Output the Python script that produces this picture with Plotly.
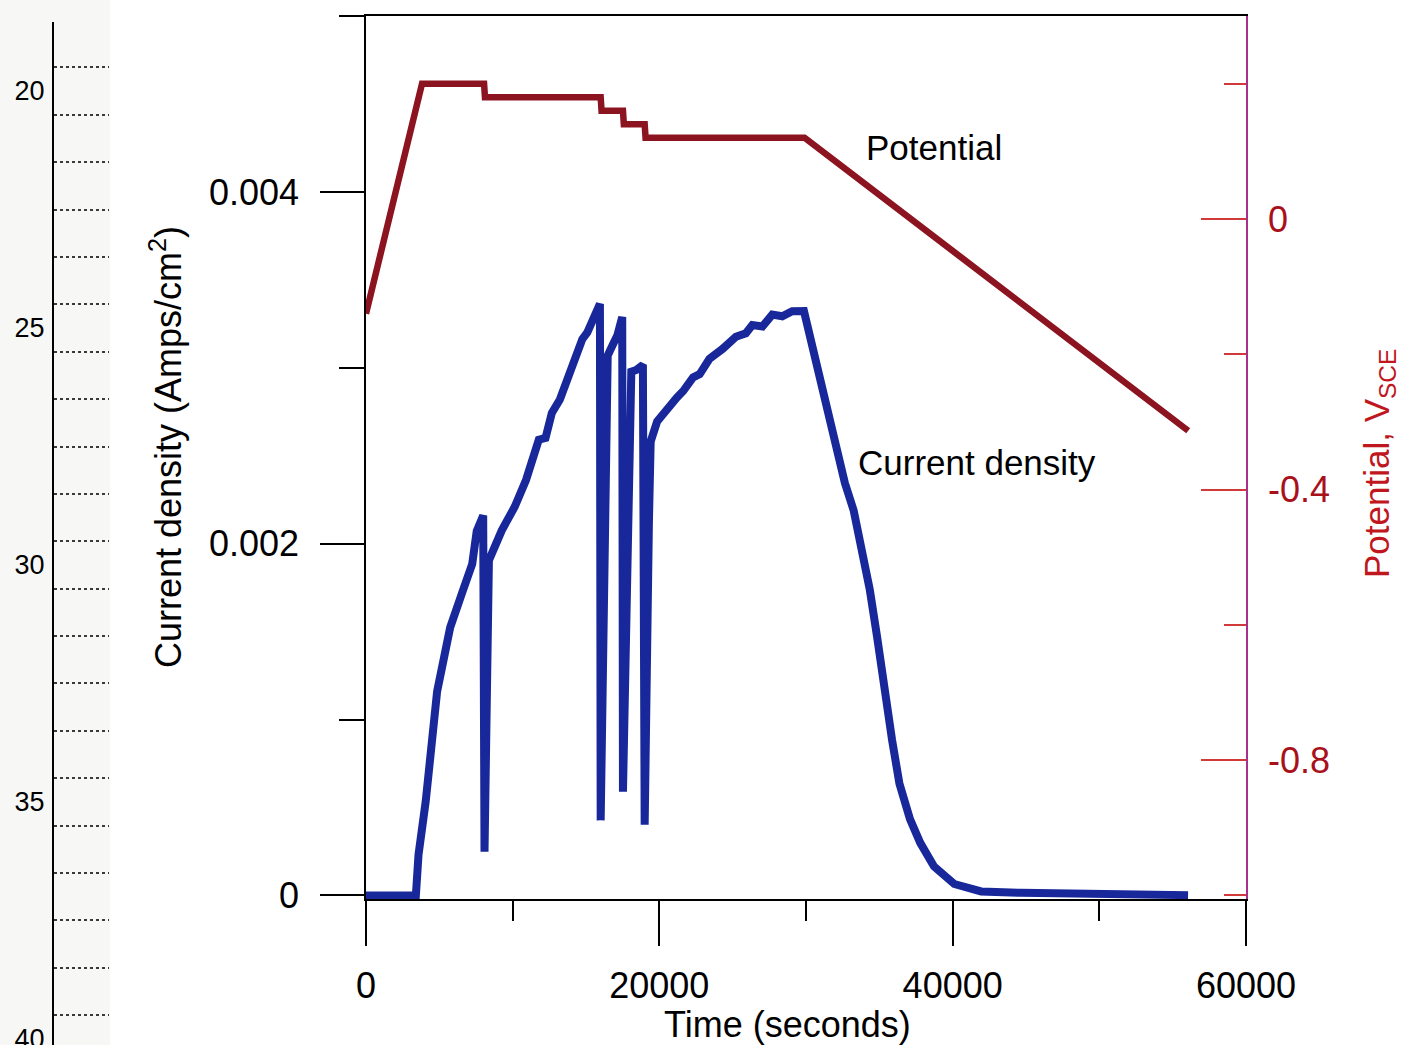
import plotly.graph_objects as go

# ---- data -------------------------------------------------------------
# current density trace (time in s, current density in A/cm^2)
cur_time = [0, 3400, 3580, 3870, 4070, 4850, 5740, 6590, 7240, 7550,
            7990, 8080, 8380, 9260, 10140, 10910, 11570, 11780, 12240, 12670,
            13220, 13660, 13870, 14320, 14750, 15090, 15530, 15950, 16000, 16480,
            16810, 17140, 17470, 17520, 18090, 18430, 18880, 19000, 19290, 19410,
            19850, 20520, 21190, 21630, 22300, 22750, 23420, 24320, 25220, 25900,
            26340, 27030, 27700, 28380, 29060, 29860, 30460, 31190, 31920, 32650,
            33250, 33860, 34350, 34850, 35370, 35870, 36370, 37090, 37790, 38730,
            40110, 41940, 44650, 51480, 56050]
cur_density = [0, 0, 0.000232, 0.000403, 0.000534, 0.00116, 0.001524, 0.00173, 0.001884, 0.002072,
               0.00216, 0.000249, 0.001905, 0.002076, 0.00221, 0.002362, 0.002534, 0.002591, 0.002601, 0.002743,
               0.00282, 0.002915, 0.002991, 0.003087, 0.003163, 0.003201, 0.003277, 0.003363, 0.000427, 0.00307,
               0.003128, 0.003185, 0.003289, 0.00059, 0.002978, 0.002988, 0.003017, 0.000402, 0.002127, 0.002581,
               0.002695, 0.002772, 0.00283, 0.002868, 0.002945, 0.002964, 0.003051, 0.003108, 0.003176, 0.003196,
               0.003243, 0.003235, 0.003302, 0.003293, 0.003322, 0.003323, 0.003109, 0.002886, 0.002615, 0.002345,
               0.002189, 0.001963, 0.001738, 0.001469, 0.001153, 0.000883, 0.000636, 0.000434, 0.000299, 0.000165,
               0.0000653, 0.000023, 0.000015, 0.000006, 0.000002]

# applied potential program (time in s, potential in V vs SCE)
pot_time = [0, 3820, 8050, 8110, 16000, 16060, 17520, 17580, 19000, 19060, 29900, 56060]
pot_volts = [-0.140, 0.200, 0.200, 0.180, 0.180, 0.160, 0.160, 0.140, 0.140, 0.120, 0.120, -0.313]

# axis ticks
time_ticks = [0, 20000, 40000, 60000]
time_tick_text = ["0", "20000", "40000", "60000"]
time_minor = [10000, 30000, 50000]
cd_ticks = [0, 0.002, 0.004]
cd_tick_text = ["0", "0.002", "0.004"]
pot_ticks = [0, -0.4, -0.8]
pot_tick_text = ["0", "-0.4", "-0.8"]
pot_minor = [0.2, -0.2, -0.6, -1.0]

# notebook page ruler along the left edge
ruler_labels = [20, 25, 30, 35, 40]
ruler_lines = [18.5 + i for i in range(22)]

# ---- styling ----------------------------------------------------------
W, H = 1418, 1045
FONT = "Liberation Sans, Arial, Helvetica, sans-serif"
BLUE = "#18289a"
MAROON = "#8c1421"
RED_TXT = "#a8101a"
RED_TITLE = "#c0161e"
RED_TICK = "#d23a3a"
AXIS_PURPLE = "#a8308c"

def px_x(p):
    return p / W

def px_y(p):
    return 1 - p / H

fig = go.Figure()

fig.add_trace(go.Scatter(
    x=cur_time, y=cur_density, mode="lines",
    line=dict(color=BLUE, width=8), xaxis="x", yaxis="y",
    showlegend=False, hoverinfo="skip"))

fig.add_trace(go.Scatter(
    x=pot_time, y=pot_volts, mode="lines",
    line=dict(color=MAROON, width=6.5), xaxis="x", yaxis="y2",
    showlegend=False, hoverinfo="skip"))

# empty trace so the ruler subplot is created
fig.add_trace(go.Scatter(x=[], y=[], xaxis="x3", yaxis="y3",
                         showlegend=False, hoverinfo="skip"))

plot_dom_x = [px_x(366), px_x(1246)]
plot_dom_y = [px_y(899), px_y(16)]

fig.update_layout(
    width=W, height=H,
    margin=dict(l=0, r=0, t=0, b=0, autoexpand=False),
    paper_bgcolor="white", plot_bgcolor="white",
    font=dict(family=FONT, color="black", size=36),
    xaxis=dict(
        domain=plot_dom_x, range=[0, 60000], anchor="y", automargin=False,
        showline=True, linecolor="black", linewidth=1.5, mirror=True,
        ticks="outside", ticklen=45, tickwidth=1.5, tickcolor="black",
        tickmode="array", tickvals=time_ticks, ticktext=time_tick_text,
        tickfont=dict(size=36), ticklabelstandoff=9,
        minor=dict(tickmode="array", tickvals=time_minor, ticks="outside",
                   ticklen=20, tickwidth=1.5, tickcolor="black"),
        showgrid=False, zeroline=False),
    yaxis=dict(
        domain=plot_dom_y, range=[-0.00002, 0.005], anchor="x", automargin=False,
        showline=True, linecolor="black", linewidth=1.5,
        ticks="outside", ticklen=44, tickwidth=1.5, tickcolor="black",
        tickmode="array", tickvals=cd_ticks, ticktext=cd_tick_text,
        tickfont=dict(size=36), ticklabelstandoff=14,
        minor=dict(dtick=0.001, tick0=0, ticks="outside", ticklen=25,
                   tickwidth=1.5, tickcolor="black"),
        showgrid=False, zeroline=False),
    yaxis2=dict(
        overlaying="y", side="right", anchor="x", automargin=False,
        range=[-1.0052, 0.3],
        showline=True, linecolor=AXIS_PURPLE, linewidth=1.5,
        ticks="inside", ticklen=45, tickwidth=1.5, tickcolor=RED_TICK,
        tickmode="array", tickvals=pot_ticks, ticktext=pot_tick_text,
        tickfont=dict(size=36, color=RED_TXT), ticklabelstandoff=13,
        minor=dict(tickmode="array", tickvals=pot_minor, ticks="inside",
                   ticklen=22, tickwidth=1.5, tickcolor=RED_TICK),
        showgrid=False, zeroline=False),
    xaxis3=dict(
        domain=[px_x(54), px_x(109)], range=[0, 1], anchor="y3",
        automargin=False, visible=False, showgrid=False, zeroline=False),
    yaxis3=dict(
        domain=[0, px_y(22)], range=[40.127, 18.544], anchor="x3",
        automargin=False, ticklabeloverflow="allow",
        showline=True, linecolor="black", linewidth=2,
        ticks="", tickmode="array", tickvals=ruler_labels,
        tickfont=dict(size=27), ticklabelstandoff=2,
        showgrid=False, zeroline=False,
        minor=dict(tickmode="array", tickvals=ruler_lines, ticks="",
                   showgrid=True, griddash="dot", gridcolor="#3a3a3a",
                   gridwidth=1.5)),
    shapes=[dict(type="rect", xref="paper", yref="paper",
                 x0=0, x1=px_x(110), y0=0, y1=1,
                 fillcolor="#f7f8f6", line=dict(width=0), layer="below")],
    annotations=[
        dict(text="Potential", x=px_x(934), y=px_y(147),
             xref="paper", yref="paper", showarrow=False,
             xanchor="center", yanchor="middle", font=dict(size=35)),
        dict(text="Current density", x=px_x(977), y=px_y(462),
             xref="paper", yref="paper", showarrow=False,
             xanchor="center", yanchor="middle", font=dict(size=35)),
        dict(text="Time (seconds)", x=px_x(787), y=px_y(1024),
             xref="paper", yref="paper", showarrow=False,
             xanchor="center", yanchor="middle", font=dict(size=36)),
        dict(text="Current density (Amps/cm<sup>2</sup>)",
             x=px_x(166), y=px_y(447), textangle=-90,
             xref="paper", yref="paper", showarrow=False,
             xanchor="center", yanchor="middle", font=dict(size=36)),
        dict(text="Potential, V<sub>SCE</sub>",
             x=px_x(1379), y=px_y(464), textangle=-90,
             xref="paper", yref="paper", showarrow=False,
             xanchor="center", yanchor="middle",
             font=dict(size=35, color=RED_TITLE)),
    ],
)

fig.write_html("out.html")
